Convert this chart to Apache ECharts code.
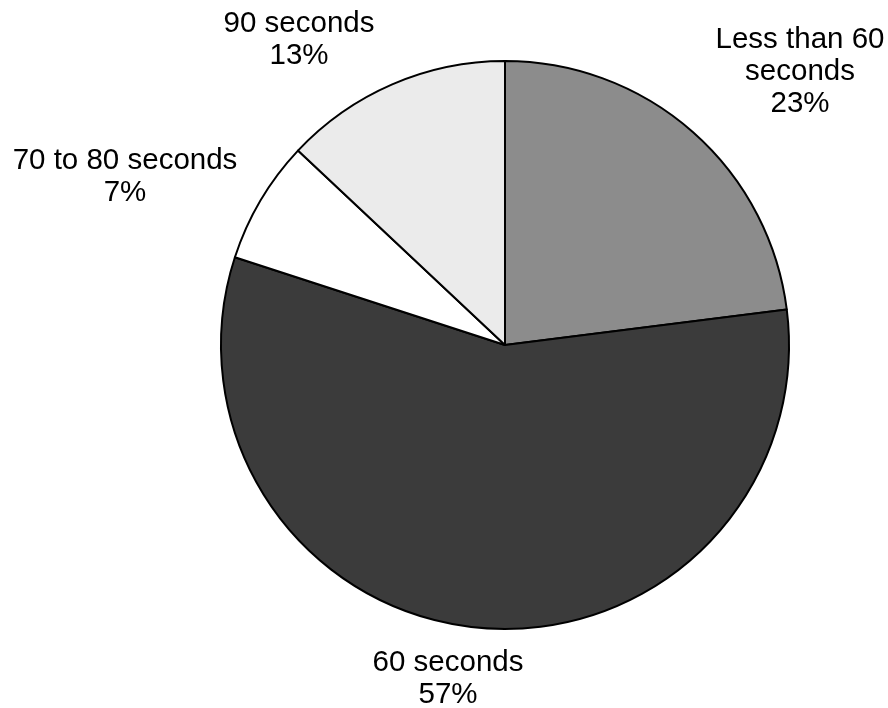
<!DOCTYPE html>
<html>
<head>
<meta charset="utf-8">
<script src="https://cdn.jsdelivr.net/npm/echarts@6/dist/echarts.min.js"></script>
<style>
  html, body { margin: 0; padding: 0; background: #ffffff; }
  #chart { width: 888px; height: 708px; }
</style>
</head>
<body>
<div id="chart"></div>
<script>
// Share of responses by duration
const categories = ['Less than 60\nseconds', '60 seconds', '70 to 80 seconds', '90 seconds'];
const shares = [23, 57, 7, 13];
const sliceColors = ['#8c8c8c', '#3b3b3b', '#ffffff', '#ebebeb'];

// Label anchor points (pixels) for each slice, in the same order
const labelAnchors = [[800, 72], [448, 679], [125, 177], [299, 40]];

const chart = echarts.init(document.getElementById('chart'), null, { renderer: 'canvas' });

chart.setOption({
  animation: false,
  backgroundColor: '#ffffff',
  series: [{
    type: 'pie',
    center: [505, 345],
    radius: [0, 284],
    startAngle: 90,
    clockwise: true,
    silent: true,
    avoidLabelOverlap: false,
    data: categories.map((name, i) => ({
      name: name,
      value: shares[i],
      itemStyle: { color: sliceColors[i] }
    })),
    itemStyle: { borderColor: '#000000', borderWidth: 2 },
    label: {
      show: true,
      position: 'outside',
      alignTo: 'none',
      overflow: 'none',
      formatter: p => p.name + '\n' + p.value + '%',
      color: '#000000',
      fontFamily: 'Liberation Sans, Arial, sans-serif',
      fontSize: 29.5,
      lineHeight: 32,
      align: 'center'
    },
    labelLine: { show: false },
    labelLayout: function (params) {
      const a = labelAnchors[params.dataIndex];
      return { x: a[0], y: a[1], align: 'center', verticalAlign: 'middle' };
    }
  }]
});
</script>
</body>
</html>
